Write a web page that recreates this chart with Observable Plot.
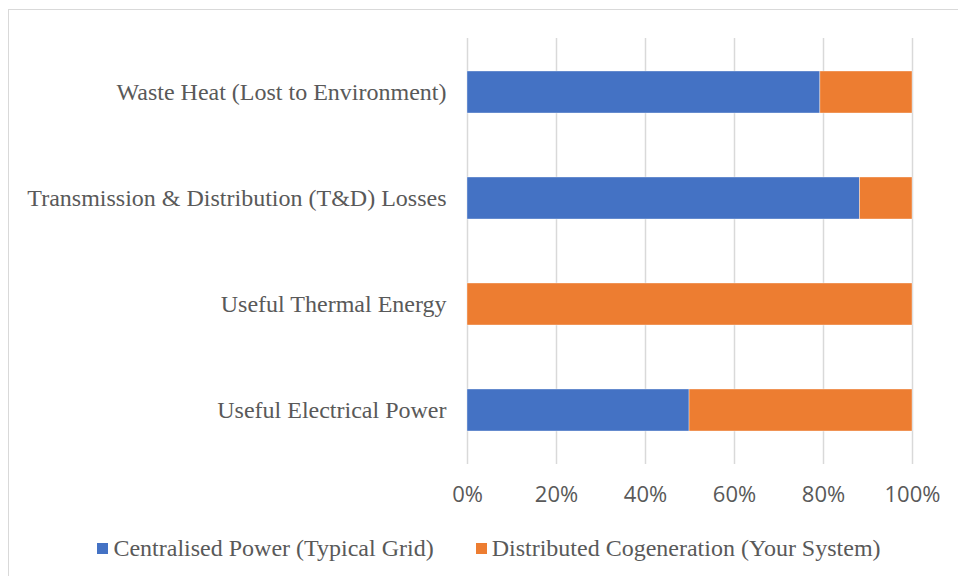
<!DOCTYPE html>
<html>
<head>
<meta charset="utf-8">
<script src="https://cdn.jsdelivr.net/npm/d3@7"></script>
<script src="https://cdn.jsdelivr.net/npm/@observablehq/plot@0.6"></script>
<style>
  html, body { margin: 0; padding: 0; background: #fff; }
  #frame { position: absolute; left: 8px; top: 9px; width: 960px; height: 600px; border: 1px solid #d9d9d9; box-sizing: border-box; }
  #chart { position: absolute; left: 0; top: 0; }
  #legend { position: absolute; left: 10px; top: 532px; width: 958px; display: flex; justify-content: center; gap: 42px;
    font-family: "Liberation Serif", "Times New Roman", serif; font-size: 24px; color: #595959; line-height: 32px; }
  #legend .item { display: flex; align-items: center; }
  #legend .sw { width: 11px; height: 11px; margin-right: 5px; }
</style>
</head>
<body>
<div id="frame"></div>
<div id="chart"></div>
<div id="legend"></div>
<script>
const categories = [
  "Waste Heat (Lost to Environment)",
  "Transmission & Distribution (T&D) Losses",
  "Useful Thermal Energy",
  "Useful Electrical Power"
];
const seriesNames = ["Centralised Power (Typical Grid)", "Distributed Cogeneration (Your System)"];
const centralised = [0.793, 0.882, 0.0, 0.499];
const distributed = [0.207, 0.118, 1.0, 0.501];
const colors = ["#4472C4", "#ED7D31"];
const xTicks = [0, 0.2, 0.4, 0.6, 0.8, 1.0];

const rows = [];
categories.forEach((c, i) => {
  rows.push({category: c, series: seriesNames[0], value: centralised[i]});
  rows.push({category: c, series: seriesNames[1], value: distributed[i]});
});

const chart = Plot.plot({
  width: 958,
  height: 520,
  marginLeft: 467,
  marginRight: 46,
  marginTop: 38,
  marginBottom: 56,
  style: { fontFamily: "Liberation Serif, serif", color: "#595959", background: "transparent" },
  x: { domain: [0, 1], ticks: xTicks, tickFormat: d => Math.round(d * 100) + "%", label: null },
  y: { domain: categories, label: null, paddingInner: 0.6, paddingOuter: 0.3 },
  color: { domain: seriesNames, range: colors },
  marks: [
    Plot.gridX(xTicks, { stroke: "#d9d9d9", strokeWidth: 1.5, strokeOpacity: 1 }),
    Plot.barX(rows, Plot.stackX({ x: "value", y: "category", fill: "series", order: seriesNames, stroke: "#fff", strokeWidth: 0.6, strokeOpacity: 0.6 })),
    Plot.axisX(xTicks, { tickSize: 0, tickPadding: 22, fontSize: 22, fontFamily: "Open Sans, sans-serif", fill: "#595959", tickFormat: d => Math.round(d * 100) + "%", label: null }),
    Plot.axisY({ tickSize: 0, tickPadding: 21, fontSize: 24, fontFamily: "Liberation Serif, serif", fill: "#595959", label: null })
  ]
});
document.getElementById("chart").appendChild(chart);

const legend = document.getElementById("legend");
seriesNames.forEach((s, i) => {
  const item = document.createElement("div");
  item.className = "item";
  const sw = document.createElement("span");
  sw.className = "sw";
  sw.style.background = colors[i];
  const t = document.createElement("span");
  t.textContent = s;
  item.appendChild(sw);
  item.appendChild(t);
  legend.appendChild(item);
});
</script>
</body>
</html>
